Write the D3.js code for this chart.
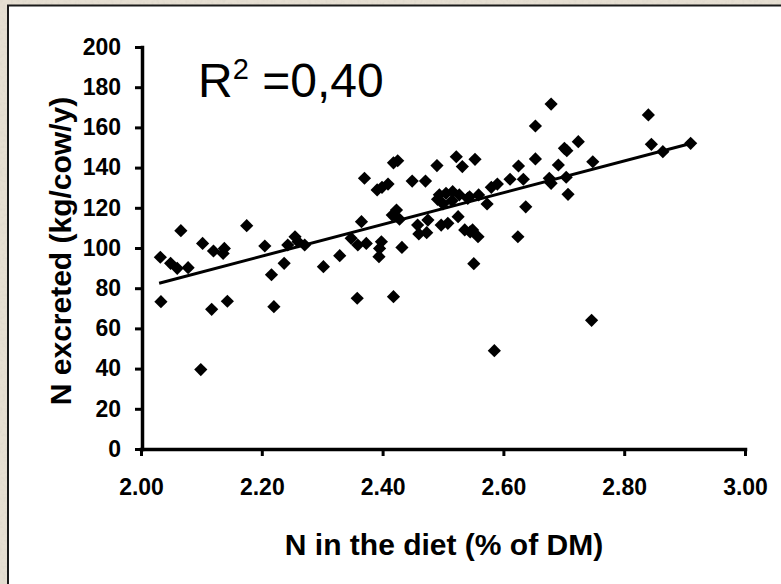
<!DOCTYPE html>
<html><head><meta charset="utf-8">
<script src="https://cdn.jsdelivr.net/npm/d3@7"></script>
<style>html,body{margin:0;padding:0;overflow:hidden;background:#e4dac8}</style>
</head><body>
<svg id="chart" width="781" height="584"></svg>
<script>
// N in the diet (% of DM)
const nDiet = [2.032,2.049,2.060,2.078,2.066,2.102,2.120,2.138,2.136,2.175,2.205,2.216,2.237,2.243,2.255,2.260,2.271,2.033,2.117,2.143,2.220,2.099,
 2.302,2.329,2.348,2.359,2.365,2.373,2.370,2.358,2.398,2.395,2.394,2.391,2.399,2.409,2.418,2.425,2.418,2.423,2.416,2.428,2.432,2.449,2.471,2.458,2.475,2.460,2.473,
 2.490,2.522,2.532,2.491,2.494,2.505,2.516,2.527,2.541,2.497,2.508,2.525,2.536,2.679,2.653,2.553,2.701,2.705,2.724,2.653,2.625,2.691,2.748,2.611,2.633,2.676,2.679,
 2.704,2.707,2.590,2.580,2.559,2.544,2.573,2.637,2.549,2.558,2.545,2.624,2.551,2.746,2.585,2.840,2.845,2.864,2.910,2.500,2.515];
// N excreted (kg/cow/y)
const nExcreted = [95.4,92.4,89.9,90.2,108.6,102.3,98.5,99.8,97.3,111.1,101,86.7,92.4,101.5,105.6,103.1,101.5,73.3,69.5,73.5,70.8,39.5,
 90.7,96.2,104.8,101.5,113.1,102.3,134.7,75.0,103.1,99.8,95.7,128.9,130.2,131.8,142.4,143.4,75.8,118.9,116.4,114.3,100.3,133.3,133.3,111.4,113.9,107.0,107.6,
 141.0,145.4,140.5,124.2,126.5,127.2,128.0,126.4,124.7,111.4,112.3,115.6,109.0,171.6,160.7,144.1,149.6,148.4,152.9,144.3,140.8,141.3,142.9,134.2,134.2,134.7,132.2,
 135.2,126.7,131.8,130.2,126.4,125.5,121.9,120.5,109.0,105.6,108.0,105.6,92.2,64.0,48.9,166.2,151.6,147.9,152.1,122.0,123.5];
// linear trend line end points
const trendX = [2.03, 2.91];
const trendY = [82.5, 152.0];
const xTicks = [2.0, 2.2, 2.4, 2.6, 2.8, 3.0];
const yTicks = [0,20,40,60,80,100,120,140,160,180,200];
const xTitle = "N in the diet (% of DM)";
const yTitle = "N excreted (kg/cow/y)";

const svg = d3.select("#chart");
const FONT = "'Liberation Sans', Arial, sans-serif";

// textured background
const defs = svg.append("defs");
const f = defs.append("filter").attr("id","paper").attr("x",0).attr("y",0).attr("width","100%").attr("height","100%");
f.append("feTurbulence").attr("type","fractalNoise").attr("baseFrequency",0.35).attr("numOctaves",3).attr("seed",4).attr("result","n");
f.append("feColorMatrix").attr("in","n").attr("type","matrix")
 .attr("values","0 0 0 0 0.70  0 0 0 0 0.66  0 0 0 0 0.58  0 0 0 -1.3 0.75").attr("result","c");
f.append("feComposite").attr("in","c").attr("in2","SourceGraphic").attr("operator","over");
svg.append("rect").attr("width",781).attr("height",584).attr("fill","#e6dfd2").attr("filter","url(#paper)");

// white panel
svg.append("rect").attr("x",8).attr("y",5.5).attr("width",820).attr("height",620)
  .attr("fill","#fff").attr("stroke","#1a1a1a").attr("stroke-width",2);

const x = d3.scaleLinear().domain([2,3]).range([141,745]);
const y = d3.scaleLinear().domain([0,200]).range([449,47]);

const yAxis = svg.append("g").attr("transform","translate(142,0)")
  .call(d3.axisLeft(y).tickValues(yTicks).tickFormat(d3.format("d")).tickSize(7).tickSizeOuter(0).tickPadding(14));
const xAxis = svg.append("g").attr("transform","translate(0,449)")
  .call(d3.axisBottom(x).tickValues(xTicks).tickFormat(d3.format(".2f")).tickSize(7).tickSizeOuter(0).tickPadding(23));
[xAxis,yAxis].forEach(a=>{
  a.select(".domain").attr("stroke","#000").attr("stroke-width",3.5).attr("stroke-linecap","square");
  a.selectAll(".tick line").attr("stroke","#000").attr("stroke-width",3);
  a.selectAll(".tick text").attr("fill","#000").attr("font-family",FONT).attr("font-weight","bold").attr("font-size",23);
});

// trend line
svg.append("line").attr("x1",x(trendX[0])).attr("y1",y(trendY[0])).attr("x2",x(trendX[1])).attr("y2",y(trendY[1]))
  .attr("stroke","#000").attr("stroke-width",3);

// points
const pts = nDiet.map((d,i)=>[d,nExcreted[i]]);
const r = 6.6;
svg.append("g").selectAll("path").data(pts).join("path")
  .attr("transform",d=>`translate(${x(d[0])},${y(d[1])})`)
  .attr("d",`M0,${-r}L${r},0L0,${r}L${-r},0Z`).attr("fill","#000");

// titles
svg.append("text").attr("x",444).attr("y",555).attr("text-anchor","middle")
  .attr("font-family",FONT).attr("font-weight","bold").attr("font-size",30).text(xTitle);
svg.append("text").attr("transform","translate(71,251) rotate(-90)").attr("text-anchor","middle")
  .attr("font-family",FONT).attr("font-weight","bold").attr("font-size",30).text(yTitle);

// R^2 annotation
const rt = svg.append("text").attr("x",198).attr("y",97).attr("font-family",FONT).attr("font-size",48).attr("fill","#000");
rt.append("tspan").text("R");
rt.append("tspan").attr("font-size",29).attr("dy",-18).text("2");
rt.append("tspan").attr("dy",18).text(" =0,40");
</script>
</body></html>
